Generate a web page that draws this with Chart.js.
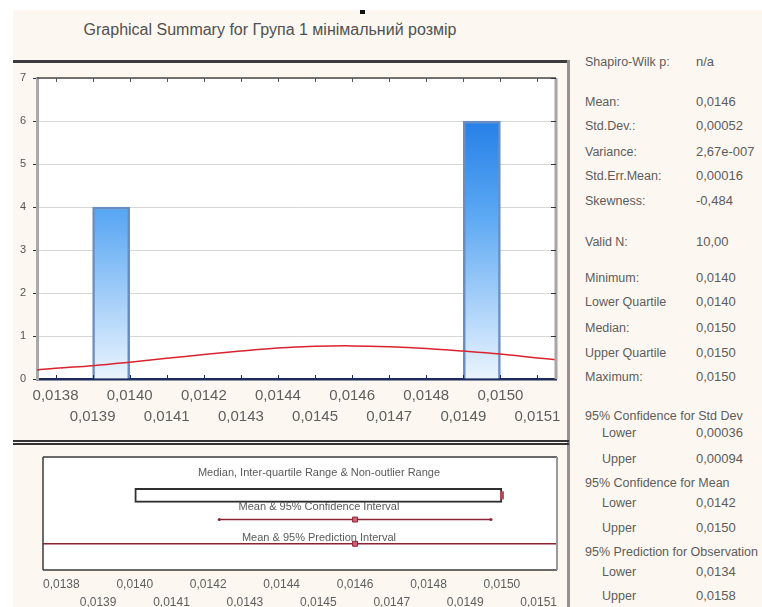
<!DOCTYPE html>
<html>
<head>
<meta charset="utf-8">
<title>Graphical Summary</title>
<script src="https://cdn.jsdelivr.net/npm/chart.js@4/dist/chart.umd.min.js"></script>
<style>
  html, body { margin: 0; padding: 0; background: #fff; width: 762px; height: 607px; overflow: hidden;
               font-family: "Liberation Sans", Arial, sans-serif; }
  #panel { position: absolute; left: 13px; top: 10px; width: 749px; height: 597px; background: #fcf8f1; }
  #mark { position: absolute; left: 360px; top: 10px; width: 5px; height: 4px; background: #111; }
  #title { position: absolute; left: 0; width: 540px; top: 20px; line-height: 20px; text-align: center;
           font-size: 16px; color: #505050; white-space: nowrap; }
  canvas { position: absolute; }
  .rule { position: absolute; z-index: 3; }
  .stat { position: absolute; font-size: 12.5px; color: #5c5c5c; line-height: 16px; white-space: nowrap; }
  .stat.val { font-size: 13px; }
  .cap { position: absolute; font-size: 11px; color: #5a5a5a; line-height: 14px; white-space: nowrap;
         transform: translateX(-50%); z-index: 2; }
</style>
</head>
<body>
<div id="panel"></div>
<div id="mark"></div>
<div id="title">Graphical Summary for Група 1 мінімальний розмір</div>
<canvas id="hist" width="569" height="378" style="left:0;top:62px;width:569px;height:378px"></canvas>
<canvas id="box" width="569" height="163" style="left:0;top:444px;width:569px;height:163px"></canvas>
<div class="rule" style="left:13px;top:60px;width:556px;height:2.5px;background:#3c3c3c"></div>
<div class="rule" style="left:567px;top:60px;width:3px;height:547px;background:#929292"></div>
<div class="rule" style="left:13px;top:440px;width:556px;height:1.5px;background:#333"></div>
<div class="rule" style="left:13px;top:443px;width:556px;height:1.5px;background:#333"></div>
<div id="stats"></div>
<div id="caps"></div>

<script>
// ---- data ----------------------------------------------------------
// histogram bins (centre of each 0.0001-wide bin) and their counts
const binCentres = [0.01395, 0.01495];
const binCounts  = [4, 6];

// fitted normal curve, expected counts per bin
const curveX = [0.01375, 0.0138, 0.0139, 0.0140, 0.0141, 0.0142, 0.0143, 0.0144,
                0.0145, 0.0146, 0.0147, 0.0148, 0.0149, 0.0150, 0.0151, 0.01515];
const curveY = [0.21, 0.25, 0.31, 0.39, 0.48, 0.57, 0.65, 0.72,
                0.76, 0.77, 0.75, 0.71, 0.65, 0.58, 0.49, 0.45];

// axis ticks
const xTicks = [0.0138, 0.0139, 0.0140, 0.0141, 0.0142, 0.0143, 0.0144,
                0.0145, 0.0146, 0.0147, 0.0148, 0.0149, 0.0150, 0.0151];
const xTickLabels = ['0,0138', '0,0139', '0,0140', '0,0141', '0,0142', '0,0143', '0,0144',
                     '0,0145', '0,0146', '0,0147', '0,0148', '0,0149', '0,0150', '0,0151'];
const xRange = [0.01375, 0.01515];
const yRange = [0, 7];

// descriptive statistics
const minValue = 0.0140;
const maxValue = 0.0150;
const quartiles = [0.0140, 0.0150];
const medianValue = 0.0150;
const meanValue = 0.0146;
const meanCI = [0.01423, 0.01497];
const predictionInterval = [0.01337, 0.01583];

const fmt4 = v => v.toFixed(4).replace('.', ',');

const statLabels = ['Shapiro-Wilk p:', 'Mean:', 'Std.Dev.:', 'Variance:', 'Std.Err.Mean:', 'Skewness:',
                    'Valid N:', 'Minimum:', 'Lower Quartile', 'Median:', 'Upper Quartile', 'Maximum:',
                    '95% Confidence for Std Dev', 'Lower', 'Upper',
                    '95% Confidence for Mean', 'Lower', 'Upper',
                    '95% Prediction for Observation', 'Lower', 'Upper'];
const statValues = ['n/a', fmt4(meanValue), '0,00052', '2,67e-007', '0,00016', '-0,484',
                    '10,00', fmt4(minValue), fmt4(quartiles[0]), fmt4(medianValue), fmt4(quartiles[1]), fmt4(maxValue),
                    '', '0,00036', '0,00094',
                    '', fmt4(meanCI[0]), fmt4(meanCI[1]),
                    '', fmt4(predictionInterval[0]), fmt4(predictionInterval[1])];

const boxCaptions = ['Median, Inter-quartile Range & Non-outlier Range',
                     'Mean & 95% Confidence Interval',
                     'Mean & 95% Prediction Interval'];

// ---- layout of the text panel ----------------------------------------
const statRowY = [62, 102, 126, 152, 176, 201, 242, 278, 302, 328, 353, 377,
                  416, 433, 459, 483, 503, 528, 552, 572, 596];
const statIndent = [0,0,0,0,0,0,0,0,0,0,0,0, 0,1,1, 0,1,1, 0,1,1];
const captionY = [472, 506, 537];
const captionX = 319;

const statsBox = document.getElementById('stats');
statLabels.forEach((t, i) => {
  const l = document.createElement('div');
  l.className = 'stat';
  l.textContent = t;
  l.style.left = (statIndent[i] ? 602 : 585) + 'px';
  l.style.top = (statRowY[i] - 8) + 'px';
  statsBox.appendChild(l);
  if (statValues[i]) {
    const v = document.createElement('div');
    v.className = 'stat val';
    v.textContent = statValues[i];
    v.style.left = '696px';
    v.style.top = (statRowY[i] - 8) + 'px';
    statsBox.appendChild(v);
  }
});
const capsBox = document.getElementById('caps');
boxCaptions.forEach((t, i) => {
  const c = document.createElement('div');
  c.className = 'cap';
  c.textContent = t;
  c.style.left = captionX + 'px';
  c.style.top = (captionY[i] - 7) + 'px';
  capsBox.appendChild(c);
});

// ---- charts ------------------------------------------------------------
Chart.defaults.font.family = '"Liberation Sans", Arial, sans-serif';
Chart.defaults.color = '#5e5e5e';

const stagger = (value, index) => index % 2 === 0 ? [xTickLabels[index], ''] : ['', xTickLabels[index]];
const setXTicks = axis => { axis.ticks = xTicks.map(v => ({ value: v })); };

function seg(ctx, x1, y1, x2, y2) {
  ctx.beginPath(); ctx.moveTo(x1, y1); ctx.lineTo(x2, y2); ctx.stroke();
}

// white plotting field plus the frame and inward tick marks of the histogram
const histFrame = {
  id: 'histFrame',
  beforeDraw(chart) {
    const { ctx, chartArea: a } = chart;
    ctx.save(); ctx.fillStyle = '#ffffff'; ctx.fillRect(a.left, a.top, a.width, a.height); ctx.restore();
  },
  afterDraw(chart) {
    const { ctx, chartArea: a, scales: { x, y } } = chart;
    ctx.save();
    ctx.strokeStyle = '#a6a6a6'; ctx.lineWidth = 3;
    seg(ctx, a.right, a.top, a.right, a.bottom);
    ctx.strokeStyle = '#4a4a4a'; ctx.lineWidth = 1.5;
    seg(ctx, a.left, a.top, a.right, a.top);
    ctx.lineWidth = 1;
    x.ticks.forEach(t => {
      const px = Math.round(x.getPixelForValue(t.value)) + 0.5;
      ctx.strokeStyle = '#555'; seg(ctx, px, a.top, px, a.top + 4);
      ctx.strokeStyle = '#1c2b5e'; seg(ctx, px, a.bottom - 4, px, a.bottom);
    });
    ctx.strokeStyle = '#333';
    y.ticks.forEach(t => {
      const py = Math.round(y.getPixelForValue(t.value)) + 0.5;
      seg(ctx, a.right - 5, py, a.right, py);
    });
    ctx.restore();
  }
};

const barFill = c => {
  const { ctx, chartArea } = c.chart;
  if (!chartArea) return '#5aa6f2';
  const g = ctx.createLinearGradient(0, chartArea.top, 0, chartArea.bottom);
  g.addColorStop(0, '#0d6ee2');
  g.addColorStop(0.45, '#5aa7f3');
  g.addColorStop(1, '#eaf4fe');
  return g;
};

new Chart(document.getElementById('hist'), {
  type: 'bar',
  data: {
    datasets: [
      {
        type: 'line',
        data: curveX.map((x, i) => ({ x, y: curveY[i] })),
        borderColor: '#d9232e',
        borderWidth: 1.5,
        pointRadius: 0,
        tension: 0.4,
        order: 0
      },
      {
        type: 'bar',
        data: binCentres.map((x, i) => ({ x, y: binCounts[i] })),
        backgroundColor: barFill,
        borderColor: '#6b8ec2',
        borderWidth: { left: 2.5, right: 2.5, top: 2.5, bottom: 0 },
        borderSkipped: false,
        barPercentage: 1,
        categoryPercentage: 1,
        order: 1
      }
    ]
  },
  options: {
    responsive: false,
    animation: false,
    layout: { padding: { left: 0, right: 13, top: 16, bottom: 0 } },
    plugins: { legend: { display: false }, tooltip: { enabled: false } },
    scales: {
      x: {
        type: 'linear',
        min: xRange[0], max: xRange[1],
        offset: false,
        afterBuildTicks: setXTicks,
        afterFit: s => { s.height = 61; },
        grid: { display: false, drawTicks: false, offset: false },
        border: { display: true, color: '#1c2b5e', width: 2.5 },
        ticks: { autoSkip: false, maxRotation: 0, minRotation: 0, padding: 6,
                 font: { size: 15, lineHeight: 1.4 }, color: '#5e5e5e', callback: stagger }
      },
      y: {
        min: yRange[0], max: yRange[1],
        afterFit: s => { s.width = 37; },
        grid: { color: '#d6d6d6', lineWidth: 1, tickColor: '#333', tickLength: 4 },
        border: { color: '#a9a9a9', width: 3 },
        ticks: { stepSize: 1, padding: 7, font: { size: 11 }, color: '#555' }
      }
    }
  },
  plugins: [histFrame]
});

// white field and frame of the interval panel
const boxFrame = {
  id: 'boxFrame',
  beforeDraw(chart) {
    const { ctx, chartArea: a } = chart;
    ctx.save(); ctx.fillStyle = '#ffffff'; ctx.fillRect(a.left, a.top, a.width, a.height); ctx.restore();
  },
  afterDraw(chart) {
    const { ctx, chartArea: a } = chart;
    ctx.save();
    ctx.strokeStyle = '#3a3a3a'; ctx.lineWidth = 1.5;
    seg(ctx, a.left, a.top, a.right, a.top);
    seg(ctx, a.left, a.top, a.left, a.bottom);
    seg(ctx, a.left, a.bottom, a.right, a.bottom);
    ctx.strokeStyle = '#9a9a9a'; ctx.lineWidth = 2;
    seg(ctx, a.right, a.top, a.right, a.bottom);
    ctx.restore();
  }
};

const intervalColor = '#8b2335';

new Chart(document.getElementById('box'), {
  type: 'line',
  data: {
    datasets: [
      {
        type: 'bar',
        indexAxis: 'y',
        data: [{ y: 1, x: quartiles }],
        backgroundColor: '#ffffff',
        borderColor: '#2e2e2e',
        borderWidth: 2,
        borderSkipped: false,
        barThickness: 14,
        order: 3
      },
      {
        type: 'line',
        data: [{ x: meanCI[0], y: 2 }, { x: meanCI[1], y: 2 }],
        borderColor: intervalColor, borderWidth: 1.5,
        pointRadius: 1.5, pointBackgroundColor: intervalColor, pointBorderWidth: 0,
        order: 2
      },
      {
        type: 'line',
        data: [{ x: predictionInterval[0], y: 3 }, { x: predictionInterval[1], y: 3 }],
        borderColor: intervalColor, borderWidth: 1.5, pointRadius: 0,
        order: 2
      },
      {
        type: 'line',
        data: [{ x: medianValue, y: 1 }],
        showLine: false,
        pointStyle: 'line', rotation: 90, pointRadius: 4,
        pointBorderColor: '#b0485a', pointBorderWidth: 4,
        order: 1
      },
      {
        type: 'line',
        data: [{ x: meanValue, y: 2 }, { x: meanValue, y: 3 }],
        showLine: false,
        pointStyle: 'rect', pointRadius: 3.5,
        pointBackgroundColor: '#d0607a', pointBorderColor: intervalColor, pointBorderWidth: 1,
        order: 0
      }
    ]
  },
  options: {
    responsive: false,
    animation: false,
    layout: { padding: { left: 43, right: 12, top: 13, bottom: 0 } },
    plugins: { legend: { display: false }, tooltip: { enabled: false } },
    scales: {
      x: {
        type: 'linear',
        min: xRange[0], max: xRange[1],
        offset: false,
        afterBuildTicks: setXTicks,
        afterFit: s => { s.height = 37; },
        grid: { display: false, drawTicks: false },
        border: { display: false },
        ticks: { autoSkip: false, maxRotation: 0, minRotation: 0, padding: 6,
                 font: { size: 12, lineHeight: 1.5 }, color: '#5e5e5e', callback: stagger }
      },
      y: {
        type: 'linear', min: 0, max: 3.5, reverse: true, display: false
      }
    }
  },
  plugins: [boxFrame]
});
</script>
</body>
</html>
